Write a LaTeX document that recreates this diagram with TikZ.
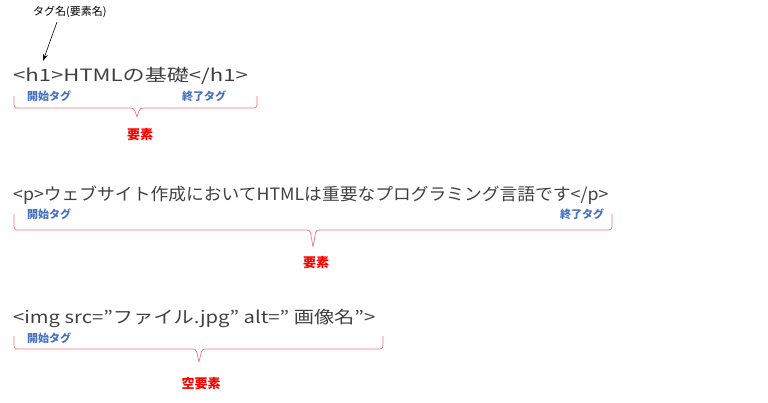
\documentclass[tikz,border=0pt]{standalone}
\usepackage{fontspec}
\setmainfont{Noto Sans CJK JP}
\usetikzlibrary{arrows.meta}
\definecolor{txt}{HTML}{404040}
\definecolor{lbl}{HTML}{4472C4}
\definecolor{brc}{HTML}{F07878}
\tikzset{
  code/.style={anchor=base west,inner sep=0pt,text=txt,font=\fontsize{17}{20}\selectfont},
  tag/.style={anchor=base west,inner sep=0pt,text=lbl,font=\fontsize{11}{13}\selectfont\bfseries},
  elem/.style={anchor=base,inner sep=0pt,text=red,font=\fontsize{13}{15}\selectfont\bfseries},
  brace/.style={draw=brc,line width=0.7pt,rounded corners=3pt},
}
\begin{document}
\begin{tikzpicture}[x=1pt,y=-1pt]
\useasboundingbox (0,0) rectangle (768,403);
\node[anchor=base west,inner sep=0pt,font=\fontsize{11}{13}\selectfont] (tn) at (33,16) {タグ名(要素名)};
\coordinate (as) at (57,22);
\coordinate (ae) at (43,61);
\draw[-{Stealth[length=7pt,width=5pt]},line width=0.6pt] (as) -- (ae);
\node[code] (l1) at (13,82) {\scalebox{1.3}[1]{<h1>HTMLの基礎</h1>}};
\node[tag] (s1) at (27,101) {開始タグ};
\node[tag] (e1) at (182,101) {終了タグ};
\draw[brace] (14,96) -- (14,108) -- (134,108) -- (137,117) (137,117) -- (140,108) -- (257,108) -- (257,96);
\node[elem] (m1) at (140,140) {要素};
\node[code] (l2) at (13,201) {\scalebox{1.045}[1]{<p>ウェブサイト作成においてHTMLは重要なプログラミング言語です</p>}};
\node[tag] (s2) at (27,219) {開始タグ};
\node[tag] (e2) at (560,219) {終了タグ};
\draw[brace] (14,214) -- (14,230) -- (310,230) -- (313,247) (313,247) -- (316,230) -- (612,230) -- (612,214);
\node[elem] (m2) at (316,268) {要素};
\node[code] (l3) at (13,323) {\scalebox{1.19}[1]{<img src=”ファイル.jpg” alt=” 画像名”>}};
\node[tag] (s3) at (27,342) {開始タグ};
\draw[brace] (14,336) -- (14,349) -- (196,349) -- (199,362) (199,362) -- (202,349) -- (383,349) -- (383,336);
\node[elem] (m3) at (201,388) {空要素};
\end{tikzpicture}
\end{document}
